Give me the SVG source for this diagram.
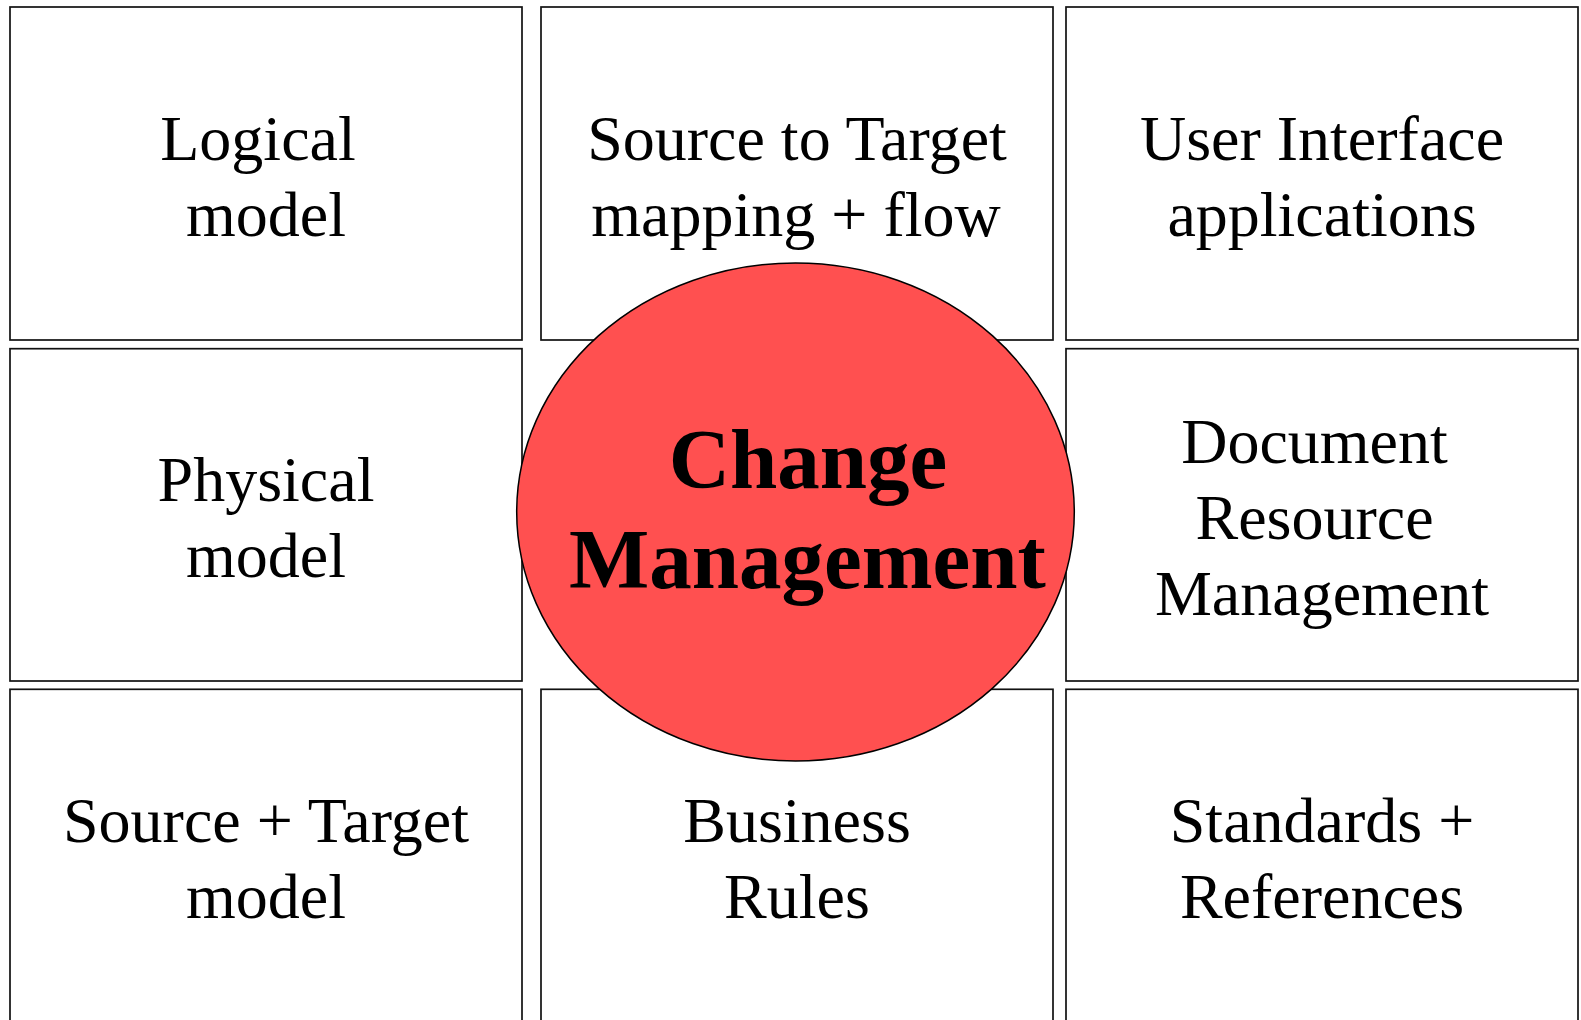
<svg xmlns="http://www.w3.org/2000/svg" width="1581" height="1020" viewBox="0 0 1581 1020">
<style>
.box{fill:#fff;stroke:#111;stroke-width:1.7}
.t{font-family:"Liberation Serif","Times New Roman",serif;font-size:64px;fill:#000;text-anchor:middle}
.c{font-family:"Liberation Serif","Times New Roman",serif;font-size:85px;font-weight:bold;fill:#000;text-anchor:middle}
</style>
<rect width="1581" height="1020" fill="#fff"/>
<g id="logical-model">
<rect class="box" x="10" y="7" width="512" height="333"/>
<text class="t"><tspan x="258" y="159.5">Logical</tspan><tspan x="266" y="235.5">model</tspan></text>
</g>
<g id="source-to-target">
<rect class="box" x="541" y="7" width="512" height="333"/>
<text class="t"><tspan x="797" y="159.5">Source to Target</tspan><tspan x="796" y="235.5">mapping + flow</tspan></text>
</g>
<g id="user-interface">
<rect class="box" x="1066" y="7" width="512" height="333"/>
<text class="t"><tspan x="1322" y="159.5">User Interface</tspan><tspan x="1322" y="235.5">applications</tspan></text>
</g>
<g id="physical-model">
<rect class="box" x="10" y="348.7" width="512" height="332.3"/>
<text class="t"><tspan x="266" y="501">Physical</tspan><tspan x="266" y="577">model</tspan></text>
</g>
<g id="document-resource">
<rect class="box" x="1066" y="348.7" width="512" height="332.3"/>
<text class="t"><tspan x="1314.5" y="462.5">Document</tspan><tspan x="1314.5" y="538.7">Resource</tspan><tspan x="1322" y="615">Management</tspan></text>
</g>
<g id="source-target-model">
<rect class="box" x="10" y="689.3" width="512" height="345"/>
<text class="t"><tspan x="266" y="842">Source + Target</tspan><tspan x="266" y="918">model</tspan></text>
</g>
<g id="business-rules">
<rect class="box" x="541" y="689.3" width="512" height="345"/>
<text class="t"><tspan x="797" y="842">Business</tspan><tspan x="797" y="918">Rules</tspan></text>
</g>
<g id="standards-references">
<rect class="box" x="1066" y="689.3" width="512" height="345"/>
<text class="t"><tspan x="1322" y="842">Standards +</tspan><tspan x="1322" y="918">References</tspan></text>
</g>
<g id="change-management">
<ellipse cx="795.5" cy="512" rx="278.8" ry="249" fill="#FF5050" stroke="#000" stroke-width="1.5"/>
<text class="c"><tspan x="808" y="488.3">Change</tspan><tspan x="807.5" y="588">Management</tspan></text>
</g>
<g id="connectors"/>
</svg>
